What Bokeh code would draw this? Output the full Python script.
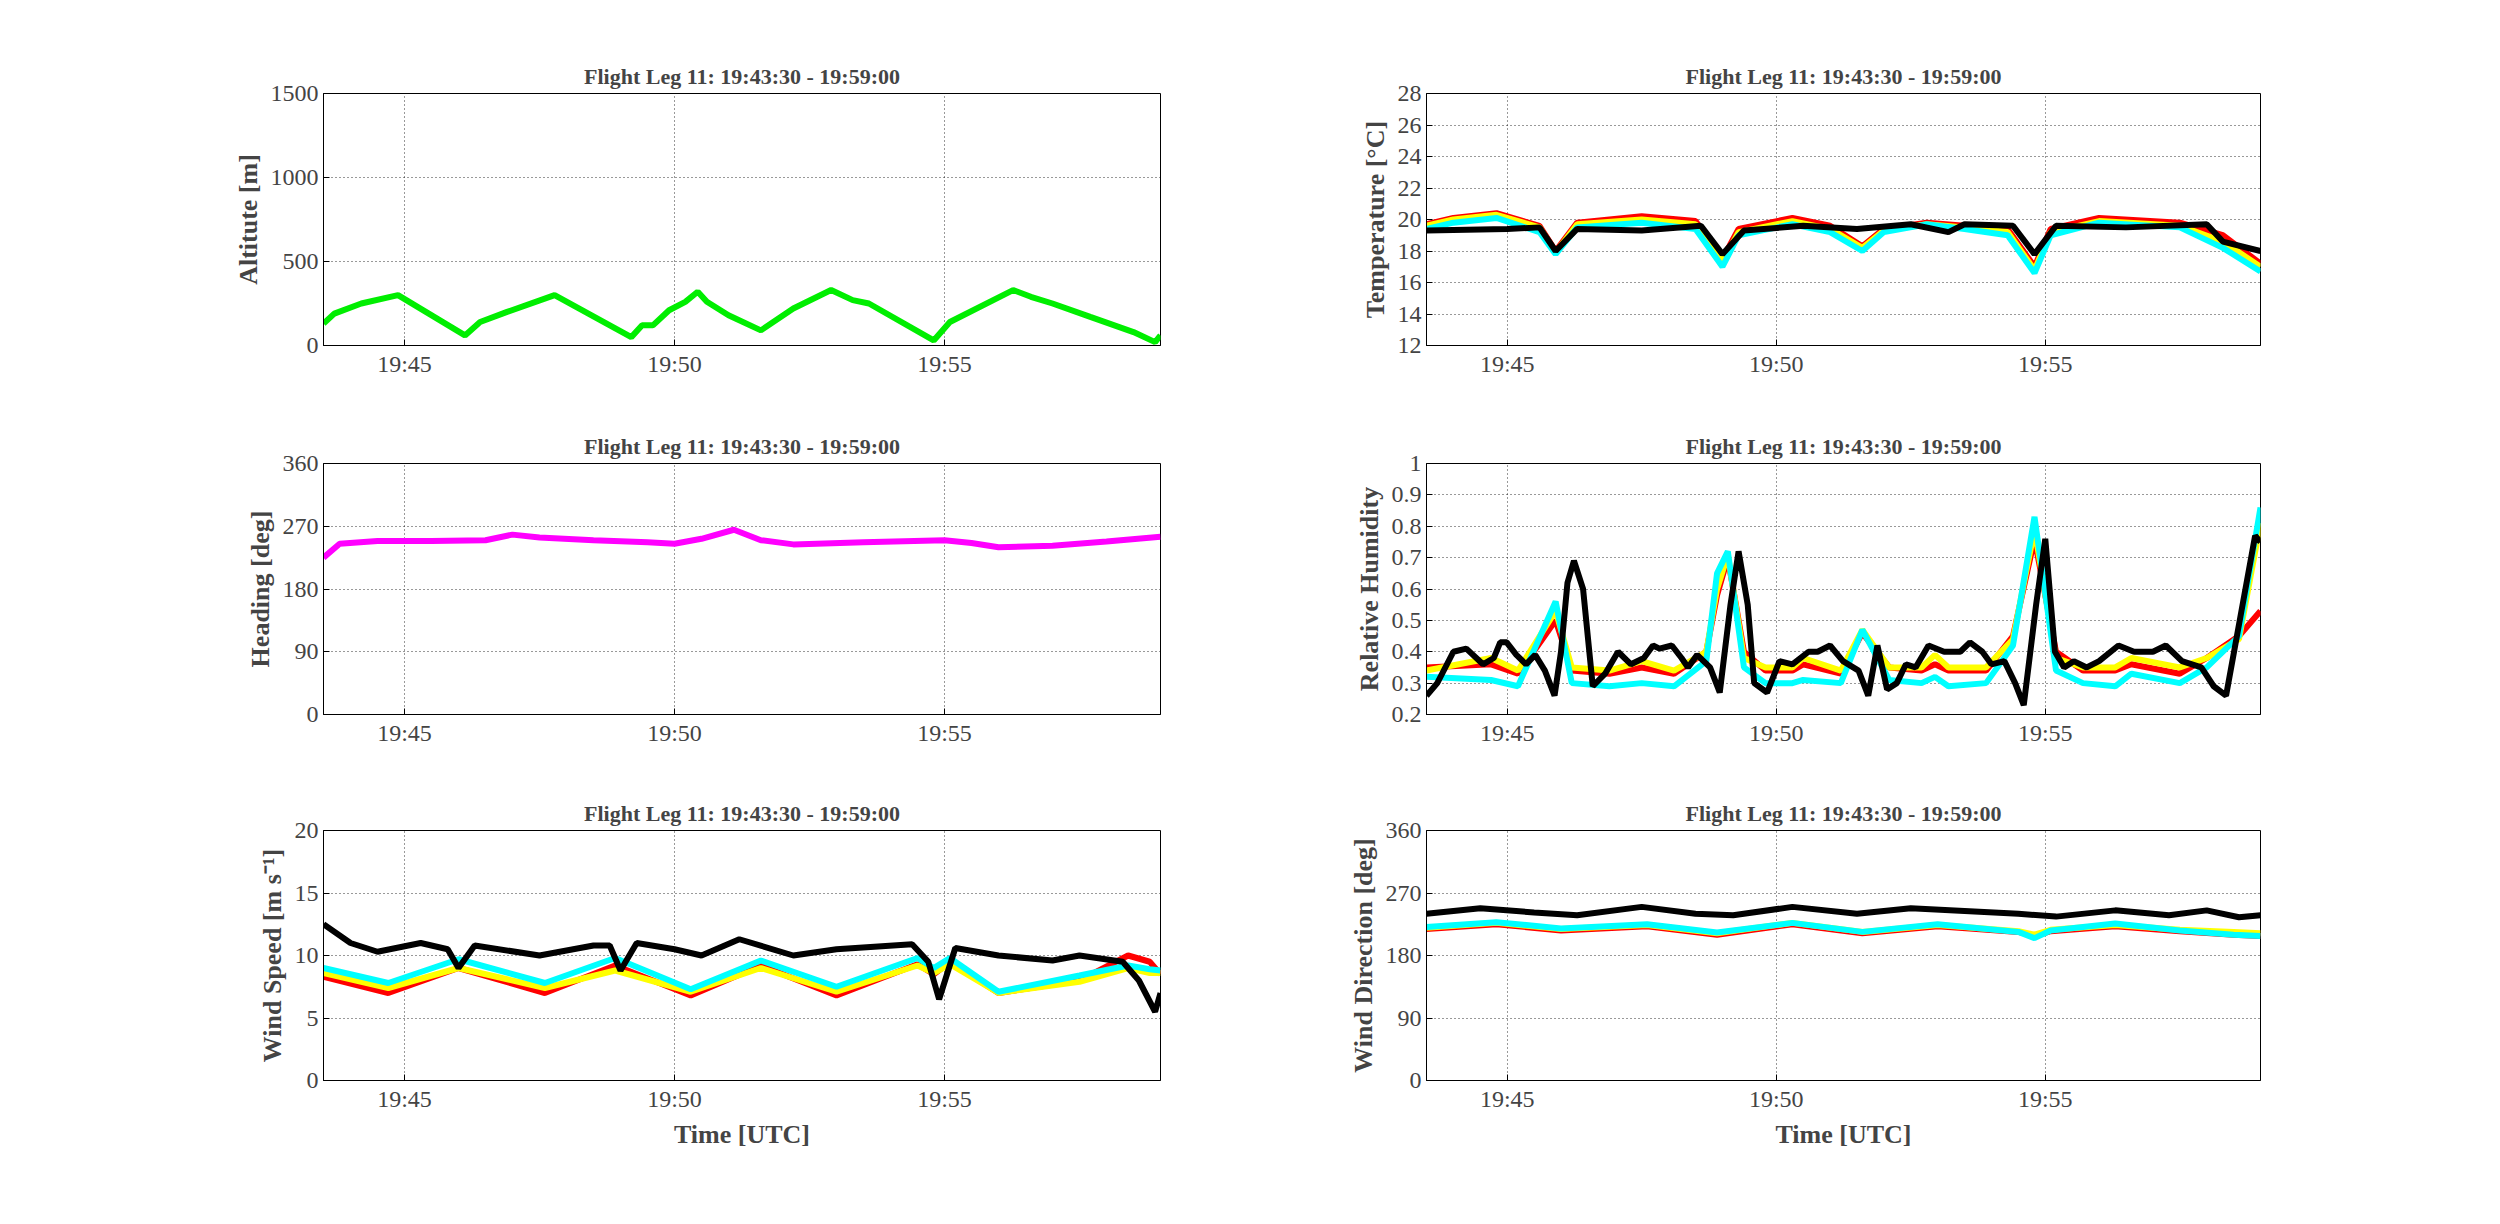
from bokeh.plotting import figure
from bokeh.layouts import gridplot
from bokeh.models import FixedTicker, Range1d
from bokeh.embed import file_html
from bokeh.resources import INLINE

FONT = "Liberation Serif"
TITLE = "Flight Leg 11: 19:43:30 - 19:59:00"
tick_min = [45, 50, 55]
tick_lbl = ["19:45", "19:50", "19:55"]

# Altitude (minutes after 19:00, m)
alt_t = [43.5,43.7,44.2,44.88,46.12,46.4,46.9,47.78,49.2,49.4,49.6,49.9,50.2,50.43,50.6,51.0,51.6,52.2,52.9,53.3,53.6,54.8,55.1,56.27,56.6,57.0,57.7,58.5,58.9,59.0]
alt_v = [130,190,250,300,60,140,200,300,50,120,120,210,260,320,260,180,90,220,330,270,250,30,140,330,290,250,170,80,20,60]

# Heading
hdg_t = [43.5,43.8,44.5,45.5,46.5,47.0,47.5,48.5,49.5,50.0,50.5,51.1,51.6,52.2,53.5,55.0,55.5,56.0,57.0,58.0,59.0]
hdg_v = [225,245,249,249,250,258,254,250,247,245,252,265,250,244,247,250,246,240,242,248,255]

# Temperature
tmp_t = [43.5,44.0,44.8,45.6,45.9,46.3,47.5,48.5,49.0,49.3,50.3,51.0,51.6,52.0,52.8,53.5,54.3,54.8,55.1,56.0,57.5,58.3,59.0]
tmp_red = [19.7,20.1,20.4,19.6,18.0,19.8,20.2,19.9,17.5,19.4,20.1,19.6,18.3,19.4,19.8,19.6,19.4,17.0,19.4,20.1,19.8,19.0,17.2]
tmp_yel = [19.6,20.0,20.3,19.5,17.9,19.7,20.0,19.7,17.3,19.2,19.9,19.4,18.2,19.3,19.7,19.5,19.2,16.8,19.2,19.9,19.6,18.6,17.0]
tmp_cyn = [19.4,19.8,20.1,19.2,17.8,19.5,19.8,19.4,17.0,19.0,19.7,19.2,18.0,19.2,19.7,19.4,19.0,16.6,19.0,19.8,19.5,18.2,16.7]
blk_tmp_t = [43.5,45.0,45.6,45.9,46.3,47.5,48.6,49.0,49.4,50.5,51.5,52.5,53.2,53.5,54.4,54.8,55.2,56.5,58.0,58.3,59.0]
blk_tmp_v = [19.3,19.4,19.5,18.0,19.4,19.3,19.6,17.8,19.3,19.6,19.4,19.7,19.2,19.7,19.6,17.8,19.6,19.5,19.7,18.6,18.0]

# Relative humidity
rh_t = [43.5,44.7,45.2,45.9,46.2,46.9,47.5,48.1,48.7,48.9,49.1,49.4,49.8,50.3,50.5,51.2,51.6,52.1,52.7,52.95,53.2,53.9,54.4,54.8,55.2,55.7,56.3,56.6,57.5,58.0,58.6,59.0]
rh_red = [0.35,0.36,0.33,0.50,0.34,0.33,0.35,0.33,0.40,0.58,0.70,0.40,0.34,0.34,0.36,0.33,0.46,0.35,0.34,0.36,0.34,0.34,0.45,0.76,0.40,0.34,0.34,0.36,0.33,0.38,0.45,0.53]
rh_yel = [0.34,0.38,0.34,0.53,0.35,0.34,0.37,0.34,0.40,0.60,0.71,0.38,0.35,0.35,0.38,0.34,0.47,0.35,0.35,0.39,0.35,0.35,0.44,0.79,0.38,0.35,0.35,0.38,0.35,0.38,0.44,0.81]
rh_cyn = [0.32,0.31,0.29,0.56,0.30,0.29,0.30,0.29,0.37,0.65,0.72,0.35,0.30,0.30,0.31,0.30,0.47,0.31,0.30,0.32,0.29,0.30,0.42,0.83,0.34,0.30,0.29,0.33,0.30,0.35,0.45,0.86]
blk_rh_t = [43.5,43.7,44.0,44.24,44.55,44.75,44.87,44.99,45.17,45.35,45.52,45.7,45.88,46.0,46.12,46.24,46.41,46.59,46.82,47.06,47.3,47.54,47.71,47.83,48.06,48.24,48.36,48.53,48.77,48.95,49.15,49.3,49.47,49.59,49.83,50.06,50.3,50.6,50.77,51.0,51.24,51.53,51.71,51.88,52.06,52.24,52.41,52.59,52.83,53.12,53.42,53.6,53.83,54.0,54.24,54.44,54.6,54.83,55.0,55.18,55.35,55.53,55.77,56.0,56.36,56.65,57.0,57.24,57.54,57.9,58.13,58.36,58.9,59.0]
blk_rh_v = [0.26,0.30,0.40,0.41,0.36,0.38,0.43,0.43,0.39,0.36,0.39,0.34,0.26,0.40,0.62,0.69,0.60,0.29,0.33,0.40,0.36,0.38,0.42,0.41,0.42,0.38,0.35,0.39,0.35,0.27,0.55,0.72,0.55,0.30,0.27,0.37,0.36,0.40,0.40,0.42,0.37,0.34,0.26,0.42,0.28,0.30,0.36,0.35,0.42,0.40,0.40,0.43,0.40,0.36,0.37,0.30,0.23,0.55,0.76,0.40,0.35,0.37,0.35,0.37,0.42,0.40,0.40,0.42,0.37,0.35,0.29,0.26,0.77,0.75]

# Wind speed
ws_t = [43.5,44.7,46.0,47.6,48.9,50.3,51.6,53.0,54.5,54.8,55.1,56.0,57.5,58.4,58.8,59.0]
ws_red = [8.3,7.0,9.0,7.0,9.2,6.8,9.2,6.8,9.3,8.5,9.5,7.0,8.0,10.0,9.5,8.5]
ws_yel = [8.6,7.4,9.0,7.4,8.8,7.1,9.0,7.1,9.2,8.6,9.3,7.0,7.9,9.0,8.6,8.6]
ws_cyn = [9.0,7.8,9.7,7.8,9.8,7.3,9.6,7.5,9.8,9.0,9.8,7.1,8.4,9.2,8.9,8.8]
blk_ws_t = [43.5,44.0,44.5,45.3,45.8,46.0,46.3,47.5,48.5,48.8,49.0,49.3,50.0,50.5,51.2,52.2,53.0,54.4,54.7,54.9,55.2,56.0,57.0,57.5,58.3,58.6,58.9,59.0]
blk_ws_v = [12.5,11.0,10.3,11.0,10.5,9.0,10.8,10.0,10.8,10.8,8.8,11.0,10.5,10.0,11.3,10.0,10.5,10.9,9.5,6.5,10.6,10.0,9.6,10.0,9.5,8.0,5.5,7.0]

# Wind direction
wd_t = [43.5,44.8,46.0,47.6,48.9,50.3,51.6,53.0,54.5,54.8,55.1,56.3,57.5,58.5,59.0]
wd_red = [218,225,216,222,210,225,212,222,214,208,215,222,215,210,208]
wd_yel = [220,227,218,224,212,227,214,224,215,210,217,224,217,214,212]
wd_cyn = [221,228,219,225,213,227,214,225,214,205,216,226,216,210,208]
blk_wd_t = [43.5,44.5,45.5,46.3,47.5,48.5,49.2,50.3,51.5,52.5,53.5,54.5,55.2,56.3,57.3,58.0,58.6,59.0]
blk_wd_v = [240,248,242,238,250,240,238,250,240,248,244,240,236,245,238,245,235,238]


def make(ylabel, yr, yticks, bl, br, bt, bb, w, h, xlabel=None):
    p = figure(width=w, height=h, x_range=Range1d(43.5, 59.0), y_range=Range1d(*yr),
               output_backend="svg", toolbar_location=None, title=TITLE,
               min_border_left=bl, min_border_right=br, min_border_top=bt, min_border_bottom=bb)
    p.title.align = "center"
    p.title.text_font = FONT
    p.title.text_font_size = "22px"
    p.title.text_font_style = "bold"
    p.title.offset = 0
    p.xaxis.ticker = FixedTicker(ticks=tick_min)
    p.xaxis.major_label_overrides = {t: l for t, l in zip(tick_min, tick_lbl)}
    p.yaxis.ticker = FixedTicker(ticks=yticks)
    for ax in (p.xaxis, p.yaxis):
        ax.major_label_text_font = FONT
        ax.major_label_text_font_size = "24px"
        ax.axis_label_text_font = FONT
        ax.axis_label_text_font_size = "26px"
        ax.axis_label_text_font_style = "bold"
        ax.minor_tick_line_color = None
        ax.major_tick_in = 6
        ax.major_tick_out = 0
        ax.axis_line_color = "black"
    p.yaxis.axis_label = ylabel
    if xlabel:
        p.xaxis.axis_label = xlabel
    p.grid.grid_line_color = "black"
    p.grid.grid_line_dash = "1 3"
    p.grid.grid_line_alpha = 0.8
    p.outline_line_color = "black"
    p.outline_line_alpha = 1
    p.background_fill_color = "white"
    p.border_fill_color = "white"
    return p

LW = 6
BL = 323
WL = BL + 837 + 116
WR = 150 + 834 + 100

p1 = make("Altitute [m]", (0, 1500), [0, 500, 1000, 1500], BL, 116, 93, 50, WL, 395)
p1.line(alt_t, alt_v, color="#00ee00", line_width=LW)

p2 = make("Temperature [°C]", (12, 28), list(range(12, 29, 2)), 150, 100, 93, 50, WR, 395)
p2.line(tmp_t, tmp_red, color="red", line_width=LW)
p2.line(tmp_t, tmp_yel, color="yellow", line_width=LW)
p2.line(tmp_t, tmp_cyn, color="cyan", line_width=LW)
p2.line(blk_tmp_t, blk_tmp_v, color="black", line_width=LW)

p3 = make("Heading [deg]", (0, 360), [0, 90, 180, 270, 360], BL, 116, 68, 50, WL, 369)
p3.line(hdg_t, hdg_v, color="magenta", line_width=LW)

p4 = make("Relative Humidity", (0.2, 1.0), [0.2,0.3,0.4,0.5,0.6,0.7,0.8,0.9,1.0], 150, 100, 68, 50, WR, 369)
p4.yaxis.major_label_overrides = {1.0: "1"}
p4.line(rh_t, rh_red, color="red", line_width=LW)
p4.line(rh_t, rh_yel, color="yellow", line_width=LW)
p4.line(rh_t, rh_cyn, color="cyan", line_width=LW)
p4.line(blk_rh_t, blk_rh_v, color="black", line_width=LW)

p5 = make("Wind Speed [m s⁻¹]", (0, 20), [0, 5, 10, 15, 20], BL, 116, 66, 100, WL, 416, "Time [UTC]")
p5.line(ws_t, ws_red, color="red", line_width=LW)
p5.line(ws_t, ws_yel, color="yellow", line_width=LW)
p5.line(ws_t, ws_cyn, color="cyan", line_width=LW)
p5.line(blk_ws_t, blk_ws_v, color="black", line_width=LW)

p6 = make("Wind Direction [deg]", (0, 360), [0, 90, 180, 270, 360], 150, 100, 66, 100, WR, 416, "Time [UTC]")
p6.line(wd_t, wd_red, color="red", line_width=LW)
p6.line(wd_t, wd_yel, color="yellow", line_width=LW)
p6.line(wd_t, wd_cyn, color="cyan", line_width=LW)
p6.line(blk_wd_t, blk_wd_v, color="black", line_width=LW)

g = gridplot([[p1, p2], [p3, p4], [p5, p6]], toolbar_location=None)
open("out.html", "w").write(file_html(g, INLINE))
